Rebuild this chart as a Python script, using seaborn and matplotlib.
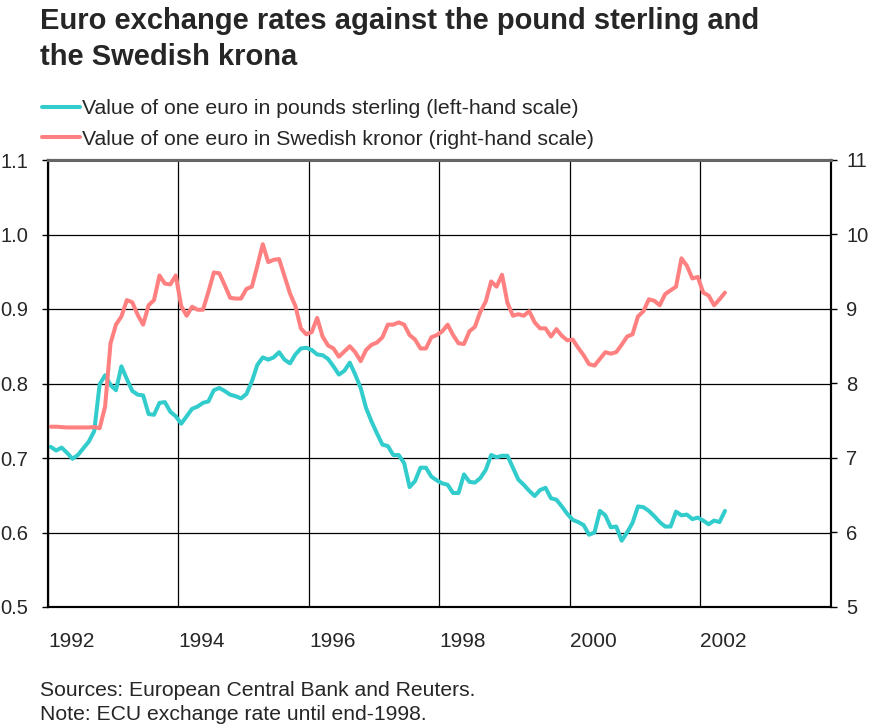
import numpy as np
import pandas as pd
import matplotlib
matplotlib.use("Agg")
import matplotlib.pyplot as plt
import seaborn as sns

# Monthly data, Jan 1992 - May 2002
start_year = 1992
gbp = [0.715, 0.710, 0.714, 0.707, 0.699, 0.704, 0.713, 0.722, 0.736, 0.799,
       0.811, 0.798, 0.791, 0.823, 0.806, 0.790, 0.785, 0.784, 0.759, 0.758,
       0.774, 0.775, 0.762, 0.756, 0.746, 0.756, 0.766, 0.769, 0.774, 0.776,
       0.791, 0.794, 0.790, 0.785, 0.783, 0.780, 0.786, 0.803, 0.825, 0.835,
       0.832, 0.835, 0.842, 0.832, 0.827, 0.839, 0.847, 0.848, 0.845, 0.839,
       0.838, 0.833, 0.823, 0.812, 0.817, 0.828, 0.812, 0.794, 0.767, 0.749,
       0.733, 0.718, 0.716, 0.704, 0.704, 0.693, 0.661, 0.669, 0.687, 0.687,
       0.675, 0.670, 0.666, 0.664, 0.653, 0.653, 0.678, 0.668, 0.667, 0.673,
       0.684, 0.704, 0.701, 0.703, 0.703, 0.687, 0.671, 0.664, 0.656, 0.649,
       0.657, 0.660, 0.646, 0.644, 0.635, 0.625, 0.617, 0.614, 0.610, 0.597,
       0.600, 0.629, 0.623, 0.607, 0.608, 0.589, 0.600, 0.613, 0.635, 0.634,
       0.629, 0.622, 0.614, 0.608, 0.608, 0.628, 0.623, 0.624, 0.618, 0.620,
       0.616, 0.611, 0.616, 0.614, 0.629]
sek = [7.42, 7.42, 7.415, 7.41, 7.41, 7.41, 7.41, 7.41, 7.415, 7.40,
       7.69, 8.54, 8.79, 8.90, 9.12, 9.09, 8.92, 8.79, 9.05, 9.12,
       9.45, 9.34, 9.33, 9.45, 9.04, 8.91, 9.03, 8.99, 8.99, 9.23,
       9.49, 9.48, 9.32, 9.15, 9.14, 9.14, 9.27, 9.30, 9.58, 9.87,
       9.63, 9.66, 9.67, 9.44, 9.21, 9.04, 8.74, 8.66, 8.69, 8.88,
       8.63, 8.51, 8.47, 8.36, 8.43, 8.50, 8.42, 8.30, 8.45, 8.52,
       8.55, 8.62, 8.79, 8.79, 8.82, 8.79, 8.65, 8.59, 8.47, 8.47,
       8.62, 8.65, 8.70, 8.79, 8.65, 8.54, 8.53, 8.70, 8.76, 8.96,
       9.10, 9.37, 9.30, 9.46, 9.08, 8.91, 8.93, 8.91, 8.97, 8.82,
       8.74, 8.74, 8.63, 8.73, 8.64, 8.58, 8.59, 8.48, 8.38, 8.26,
       8.24, 8.33, 8.42, 8.40, 8.42, 8.52, 8.63, 8.66, 8.90, 8.97,
       9.13, 9.11, 9.05, 9.20, 9.25, 9.30, 9.68, 9.58, 9.41, 9.43,
       9.22, 9.18, 9.05, 9.13, 9.22]

year_ticks = [1992, 1994, 1996, 1998, 2000, 2002]
left_ticks = [0.5, 0.6, 0.7, 0.8, 0.9, 1.0, 1.1]
right_ticks = [5, 6, 7, 8, 9, 10, 11]

label_gbp = "Value of one euro in pounds sterling (left-hand scale)"
label_sek = "Value of one euro in Swedish kronor (right-hand scale)"
c_gbp = "#33CCCC"
c_sek = "#FF8080"

df = pd.DataFrame({
    "year": start_year + (np.arange(len(gbp)) + 0.5) / 12,
    "gbp": gbp,
    "sek": sek,
})

sns.set_style("white")
plt.rcParams["font.family"] = ["Liberation Sans", "DejaVu Sans"]

fig = plt.figure(figsize=(8.69, 7.26), dpi=100)
ax = fig.add_axes([48 / 869, 1 - 607 / 726, 783 / 869, 447 / 726])
ax2 = ax.twinx()

sns.lineplot(data=df, x="year", y="sek", ax=ax2, color=c_sek, lw=2.9, legend=False)
sns.lineplot(data=df, x="year", y="gbp", ax=ax, color=c_gbp, lw=2.9, legend=False)

ax.set_xlim(1992, 2004)
ax.set_ylim(0.5, 1.1)
ax2.set_ylim(5, 11)

ax.set_xticks(year_ticks)
ax.set_xticklabels([str(y) for y in year_ticks], ha="left")
ax.set_xticks(np.arange(1993, 2004, 2), minor=True)
ax.set_yticks(left_ticks)
ax.set_yticklabels([f"{v:.1f}" for v in left_ticks])
ax2.set_yticks(right_ticks)
ax2.set_yticklabels([str(v) for v in right_ticks])

ax.grid(True, axis="both", which="major", color="black", lw=0.9)
ax.set_axisbelow(True)
ax.tick_params(axis="x", which="major", length=0, pad=18, labelsize=15)
ax.tick_params(axis="x", which="minor", direction="in", length=5, width=1, color="black")
ax.tick_params(axis="y", direction="out", length=4, width=1, color="black", pad=10, labelsize=14.5)
ax2.tick_params(axis="y", direction="out", length=4, width=1, color="black", pad=7, labelsize=14.5)
ax.set_xlabel("")
ax.set_ylabel("")
ax2.set_ylabel("")

for a in (ax, ax2):
    for s in a.spines.values():
        s.set_color("black")
        s.set_linewidth(1.5)
ax2.spines["top"].set_color("#666666")
ax2.spines["top"].set_linewidth(2.2)

handles = [ax.lines[0], ax2.lines[0]]
fig.legend(handles, [label_gbp, label_sek], loc="upper left",
           bbox_to_anchor=(42 / 869, 1 - 99 / 726), frameon=False,
           fontsize=15.3, handlelength=1.8, handletextpad=0.1,
           labelspacing=0.56, borderaxespad=0, borderpad=0)

fig.text(40 / 869, 1 - 7 / 726,
         "Euro exchange rates against the pound sterling and\nthe Swedish krona",
         ha="left", va="top", fontsize=21, fontweight="bold", linespacing=1.35)
fig.text(40 / 869, 1 - 690 / 726, "Sources: European Central Bank and Reuters.",
         ha="left", va="center", fontsize=15.2)
fig.text(40 / 869, 1 - 715 / 726, "Note: ECU exchange rate until end-1998.",
         ha="left", va="center", fontsize=15.2)

fig.savefig("out.png", dpi=100)
